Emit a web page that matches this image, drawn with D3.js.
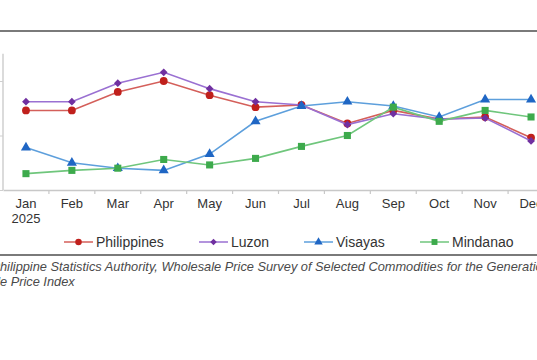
<!DOCTYPE html>
<html><head><meta charset="utf-8">
<script src="https://cdn.jsdelivr.net/npm/d3@7"></script>
<style>html,body{margin:0;padding:0;background:#fff;overflow:hidden}svg{display:block}</style>
</head><body>
<svg id="c" width="537" height="360"></svg>
<script>
const months = ["Jan","Feb","Mar","Apr","May","Jun","Jul","Aug","Sep","Oct","Nov","Dec"];
const seriesNames = ["Philippines","Luzon","Visayas","Mindanao"];
const philippines = [107.3,107.3,109.0,110.0,108.7,107.6,107.8,106.1,107.3,106.5,106.7,104.8];
const luzon       = [108.1,108.1,109.8,110.8,109.3,108.1,107.8,106.0,107.0,106.5,106.6,104.5];
const visayas     = [103.9,102.5,102.0,101.8,103.3,106.3,107.7,108.1,107.7,106.7,108.3,108.3];
const mindanao    = [101.5,101.8,102.0,102.8,102.3,102.9,104.0,105.0,107.6,106.3,107.3,106.7];
const yTicks = [100,105,110];
const sourceLine1 = "Source: Philippine Statistics Authority, Wholesale Price Survey of Selected Commodities for the Generation of Wholesale Price Index";

const svg = d3.select("#c");
const font = "'Liberation Sans', Arial, sans-serif";
const x = d3.scaleBand().domain(months).range([3, 554]);
const y = d3.scaleLinear().domain([100, 112.5]).range([190, 53.75]);

const styles = [
  {line:"#d45f5a", mark:"#c0201c", shape:d3.symbolCircle, size:48, rot:0},
  {line:"#9a70d2", mark:"#7030a0", shape:d3.symbolSquare, size:30, rot:45},
  {line:"#5d9fdc", mark:"#1f66c4", shape:d3.symbolTriangle, size:44, rot:0},
  {line:"#6fc67c", mark:"#3daa4c", shape:d3.symbolSquare, size:50, rot:0}
];
const data = [philippines, luzon, visayas, mindanao];

// top and bottom rules
svg.append("rect").attr("x",0).attr("y",30).attr("width",537).attr("height",2).attr("fill","#7a7a7a");
svg.append("rect").attr("x",0).attr("y",254).attr("width",537).attr("height",2).attr("fill","#7a7a7a");

// y axis
const ya = svg.append("g").attr("transform","translate(3,0)")
  .call(d3.axisLeft(y).tickValues(yTicks).tickSize(4).tickFormat(""));
ya.select(".domain").attr("d", `M0,${y(112.5)}V190`).attr("stroke","#cfcfcf").attr("stroke-width",1.5);
ya.selectAll(".tick line").attr("stroke","#cfcfcf");

// x axis
const xa = svg.append("g").attr("transform","translate(0,190)")
  .call(d3.axisBottom(x).tickSize(0).tickPadding(9));
xa.select(".domain").attr("stroke","#c8c8c8").attr("stroke-width",1.5);
xa.selectAll(".tick text").attr("font-family",font).attr("font-size",13).attr("fill","#333");
xa.select(".tick text").append("tspan").attr("x",0).attr("dy","1.15em").text("2025");
xa.selectAll(".bnd").data(months.slice(1)).enter().append("line").attr("class","bnd")
  .attr("x1",d=>x(d)).attr("x2",d=>x(d)).attr("y1",0).attr("y2",4).attr("stroke","#c8c8c8").attr("stroke-width",1.2);

// series
const line = d3.line().x((d,i)=>x(months[i])+x.bandwidth()/2).y(d=>y(d));
data.forEach((vals, k) => {
  const g = svg.append("g");
  g.append("path").attr("d", line(vals)).attr("fill","none").attr("stroke",styles[k].line).attr("stroke-width",1.6);
  g.selectAll("path.m").data(vals).enter().append("path").attr("class","m")
    .attr("d", d3.symbol().type(styles[k].shape).size(styles[k].size))
    .attr("transform",(d,i)=>`translate(${x(months[i])+x.bandwidth()/2},${y(d)}) rotate(${styles[k].rot})`)
    .attr("fill",styles[k].mark);
});

// legend
const legX = [64, 199, 304, 420];
seriesNames.forEach((n,k) => {
  const g = svg.append("g").attr("transform",`translate(${legX[k]},242)`);
  g.append("line").attr("x1",0).attr("x2",29).attr("stroke",styles[k].line).attr("stroke-width",1.5);
  g.append("path").attr("d",d3.symbol().type(styles[k].shape).size(styles[k].size*0.7))
    .attr("transform",`translate(14.5,0) rotate(${styles[k].rot})`).attr("fill",styles[k].mark);
  g.append("text").attr("x",32).attr("y",5).attr("font-family",font).attr("font-size",14).attr("fill","#333").text(n);
});

// source
const fs = 12.8;
const s1 = svg.append("text").attr("y",271).attr("font-family",font).attr("font-size",fs).attr("font-style","italic").attr("fill","#4a4a4a");
const tmp = svg.append("text").attr("font-family",font).attr("font-size",fs).attr("font-style","italic").text("Source: P");
const off1 = tmp.node().getComputedTextLength();
tmp.text("Wholesal");
const off2 = tmp.node().getComputedTextLength();
tmp.remove();
const parts = sourceLine1.split("Generation of ");
s1.append("tspan").attr("x",-off1).text(parts[0] + "Generation of");
s1.append("tspan").attr("x",-off2).attr("dy",14.5).text(parts[1]);
</script>
</body></html>
